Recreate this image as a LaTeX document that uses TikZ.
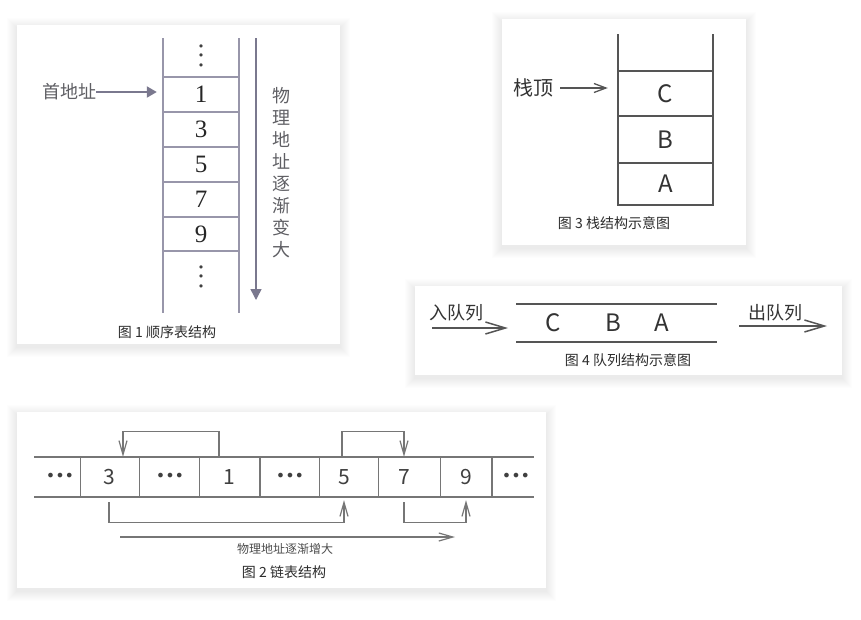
\documentclass[tikz,border=0pt]{standalone}
\usepackage{fontspec}
\setmainfont{Noto Sans CJK SC}
\newfontfamily\numfont{Liberation Serif}
\newfontfamily\dotfont{DejaVu Sans}
\usetikzlibrary{calc,arrows.meta}
\definecolor{seqline}{RGB}{152,150,170}
\definecolor{seqarrow}{RGB}{122,120,142}
\definecolor{seqtext}{RGB}{95,95,100}
\definecolor{boxline}{RGB}{85,85,85}
\definecolor{listline}{RGB}{118,118,118}
\definecolor{captext}{RGB}{45,45,45}
\def\fsz#1{\fontsize{#1}{#1}\selectfont}
\def\listdots{{\dotfont\fsz{16}•••}}
\def\panel(#1)(#2){\foreach \s in {1,...,10} {\fill[black, opacity=0.006] ($(#1)+(-\s,-\s+3)$) rectangle ($(#2)+(\s,\s+3)$);} \fill[white] (#1) rectangle (#2);}
\tikzset{
	seqrule/.style={line width=1.2pt, draw=seqline},
	seqhead/.style={line width=2pt, draw=seqarrow, -{Triangle[width=11pt,length=10pt]}},
	seqdown/.style={line width=1.5pt, draw=seqarrow, -{Triangle[width=11pt,length=11pt]}},
	seqcell/.style={minimum width=76pt, minimum height=35pt, inner sep=0pt, text=black!85, font=\numfont\fsz{25}},
	seqdots/.style={inner sep=0pt, align=center, text=black!75, font=\dotfont\fontsize{11}{9.5}\selectfont},
	seqlabel/.style={inner sep=0pt, text=seqtext, font=\fsz{18}},
	figcap/.style={inner sep=0pt, text=captext, font=\fsz{14}},
	listrule/.style={line width=1.3pt, draw=listline},
	listcell/.style={minimum height=40pt, inner sep=0pt, text=black!75, font=\fsz{21}},
	listarrow/.style={line width=1.2pt, draw=listline, -{Straight Barb[length=14pt,width=8pt]}},
	listlabel/.style={inner sep=0pt, text=black!70, font=\fsz{12}},
	stackrule/.style={line width=1.5pt, draw=boxline},
	stackcell/.style={minimum width=95pt, inner sep=0pt, text=black!80, font=\fsz{24}},
	stacklabel/.style={inner sep=0pt, text=black!80, font=\fsz{20}},
	barb/.style={line width=1.3pt, draw=boxline, -{Straight Barb[length=12pt,width=9pt]}},
	qbarb/.style={line width=1.5pt, draw=boxline, -{Straight Barb[length=20pt,width=12pt]}},
	qlabel/.style={inner sep=0pt, text=black!80, font=\fsz{18}}
}
\begin{document}
\begin{tikzpicture}[x=1pt, y=-1pt]
		%%%%% START %%%%%
		\useasboundingbox (0,0) rectangle (861,619);
		\fill[white] (0,0) rectangle (861,619);
		
		%% fig 1
		\panel(17,25)(340,344)
		\draw[seqrule] (163,38) -- (163,313);
		\draw[seqrule] (239,38) -- (239,313);
		\foreach \y in {77,112,147,182,217,251} \draw[seqrule] (163,\y) -- (239,\y);
		\node[seqdots] (dtop) at (201,57) {•\\•\\•};
		\foreach \v [count=\i] in {1,3,5,7,9} \node[seqcell] (s\v) at (201,59.5+35*\i) {\v};
		\node[seqdots] (dbot) at (201,278) {•\\•\\•};
		
		\node[seqlabel] (head) at (69,92) {首地址};
		\draw[seqhead, shorten >=6pt] (head.east) -- (head.east -| s1.west);
		
		\coordinate (gtop) at (256,38);
		\coordinate (gbot) at (256,300);
		\draw[seqdown] (gtop) -- (gbot);
		\node[seqlabel, align=center, font=\fontsize{18}{22}\selectfont] (grow) at (281,172.5) {物\\理\\地\\址\\逐\\渐\\变\\大};
		\node[figcap] (cap1) at (167,332) {图 1 顺序表结构};
		
		%% fig 2
		\panel(17,412)(546,588)
		\draw[listrule] (34,457) -- (534,457);
		\draw[listrule] (34,497) -- (534,497);
		\foreach \x in {80.5,139.5,199.5,260,319.5,378.5,440.5,492} \draw[listrule] (\x,457) -- (\x,497);
		\foreach \x/\t/\n in {60/\listdots/d1, 109/3/n3, 170/\listdots/d2, 229/1/n1, 290/\listdots/d3, 344/5/n5, 404/7/n7, 466/9/n9, 516/\listdots/d4}
			\node[listcell] (\n) at (\x,477) {\t};
		
		\draw[listarrow] ([xshift=-10pt]n1.north) -- ++(0,-25) -| ([xshift=14pt]n3.north);
		\draw[listarrow] ([xshift=-2pt]n5.north) -- ++(0,-25) -| (n7.north);
		\draw[listarrow] ([yshift=-5pt]n3.south) -- ++(0,20) -| ([yshift=-3pt]n5.south);
		\draw[listarrow] ([yshift=-5pt]n7.south) -- ++(0,20) -| ([yshift=-3pt]n9.south);
		
		\coordinate (addrL) at (120,537);
		\coordinate (addrR) at (455,537);
		\draw[listarrow] (addrL) -- (addrR);
		\node[listlabel] (addr) at (285,549) {物理地址逐渐增大};
		\node[figcap] (cap2) at (284,572) {图 2 链表结构};
		
		%% fig 3
		\panel(502,19)(746,245)
		\draw[stackrule] (618,34) -- (618,205) -- (713,205) -- (713,34);
		\foreach \y in {71,116,163} \draw[stackrule] (618,\y) -- (713,\y);
		\node[stackcell] (sC) at (665.5,94) {C};
		\node[stackcell] (sB) at (665.5,140) {B};
		\node[stackcell] (sA) at (665.5,184) {A};
		\node[stacklabel] (stop) at (533,88) {栈顶};
		\draw[barb, shorten >=10pt] ([xshift=7pt]stop.east) -- (stop.east -| sC.west);
		\node[figcap] (cap3) at (614,223) {图 3 栈结构示意图};
		
		%% fig 4
		\panel(415,286)(842,375)
		\draw[stackrule, line width=2pt] (516,304) -- (717,304);
		\draw[stackrule, line width=2pt] (516,342) -- (717,342);
		\node[stackcell, minimum width=0pt] (qC) at (553,323) {C};
		\node[stackcell, minimum width=0pt] (qB) at (613,323) {B};
		\node[stackcell, minimum width=0pt] (qA) at (662,323) {A};
		
		\node[qlabel] (enq) at (456,313) {入队列};
		\coordinate (enqL) at (432,328);
		\coordinate (enqR) at (508,328);
		\draw[qbarb] (enqL) -- (enqR);
		\node[qlabel] (deq) at (775,313) {出队列};
		\coordinate (deqL) at (739,326);
		\coordinate (deqR) at (827,326);
		\draw[qbarb] (deqL) -- (deqR);
		\node[figcap] (cap4) at (628,360) {图 4 队列结构示意图};
		
		%%%%% END %%%%%
	\end{tikzpicture}
\end{document}
